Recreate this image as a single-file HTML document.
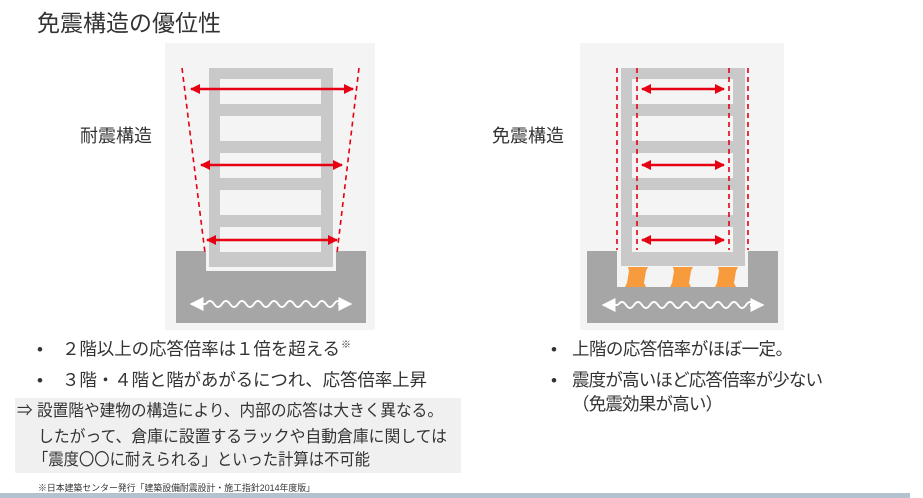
<!DOCTYPE html>
<html><head><meta charset="utf-8"><style>
html,body{margin:0;padding:0;background:#fff;}
svg{display:block;}
text{font-family:"Liberation Sans","Noto Sans CJK JP",sans-serif;fill:#333;}
</style></head><body>
<svg width="923" height="498" viewBox="0 0 923 498" xmlns="http://www.w3.org/2000/svg">
<defs>
<marker id="ar" viewBox="0 0 10 10" refX="9" refY="5" markerWidth="4" markerHeight="4" orient="auto-start-reverse"><path d="M0,0 L10,5 L0,10 z" fill="#e60012"/></marker>
<marker id="wa" viewBox="0 0 10 10" refX="9" refY="5" markerWidth="7" markerHeight="8" orient="auto-start-reverse"><path d="M0,0 L10,5 L0,10 z" fill="#fff"/></marker>
</defs>
<text x="37" y="31" font-size="23">免震構造の優位性</text>

<!-- Left panel -->
<rect x="165" y="43" width="210" height="287" fill="#f4f4f4"/>
<rect x="176" y="251" width="190" height="72" fill="#a6a6a6"/>
<rect x="206" y="251" width="130" height="20" fill="#f4f4f4"/>
<rect x="209" y="68" width="124" height="199" fill="#c9c9c9"/>
<g fill="#f4f4f4">
<rect x="220" y="79" width="101" height="25"/><rect x="220" y="116" width="101" height="25"/>
<rect x="220" y="153" width="101" height="25"/><rect x="220" y="190" width="101" height="25"/>
<rect x="220" y="227" width="101" height="25"/></g>
<g stroke="#e60012" stroke-width="1.6" stroke-dasharray="5,4" fill="none">
<line x1="182" y1="68" x2="205" y2="253"/><line x1="359" y1="68" x2="337" y2="253"/></g>
<g stroke="#e60012" stroke-width="2.5" marker-start="url(#ar)" marker-end="url(#ar)">
<line x1="191" y1="89" x2="353" y2="89"/><line x1="201" y1="165" x2="342" y2="165"/><line x1="207" y1="240" x2="337" y2="240"/></g>
<path d="M206,304 q4,-6 8,0 t8,0 t8,0 t8,0 t8,0 t8,0 t8,0 t8,0 t8,0 t8,0 t8,0 t8,0 t8,0 t8,0 t8,0 t8,0 t8,0" stroke="#fff" stroke-width="2" fill="none"/>
<line x1="206" y1="304" x2="191" y2="304" stroke="#fff" stroke-width="2" marker-end="url(#wa)"/>
<line x1="338" y1="304" x2="351" y2="304" stroke="#fff" stroke-width="2" marker-end="url(#wa)"/>
<text x="80" y="142" font-size="18">耐震構造</text>

<!-- Right panel -->
<rect x="580" y="43" width="204" height="287" fill="#f4f4f4"/>
<rect x="587" y="251" width="191" height="72" fill="#a6a6a6"/>
<rect x="617" y="251" width="131" height="36" fill="#f4f4f4"/>
<rect x="621" y="68" width="124" height="198" fill="#c9c9c9"/>
<g fill="#f4f4f4">
<rect x="632" y="79" width="101" height="25"/><rect x="632" y="116" width="101" height="25"/>
<rect x="632" y="153" width="101" height="25"/><rect x="632" y="190" width="101" height="25"/>
<rect x="632" y="227" width="101" height="25"/></g>
<g fill="#f79b3c">
<path d="M628,267 H648 L646,271 L644,283 L646,287 H625 L627,283 L629,271 Z"/>
<path d="M673,267 H693 L691,271 L689,283 L691,287 H670 L672,283 L674,271 Z"/>
<path d="M718,267 H738 L736,271 L734,283 L736,287 H715 L717,283 L719,271 Z"/></g>
<g stroke="#e60012" stroke-width="1.6" stroke-dasharray="5,4">
<line x1="617" y1="68" x2="617" y2="250"/><line x1="637" y1="68" x2="637" y2="250"/>
<line x1="729" y1="68" x2="729" y2="250"/><line x1="748" y1="68" x2="748" y2="250"/></g>
<g stroke="#e60012" stroke-width="2.5" marker-start="url(#ar)" marker-end="url(#ar)">
<line x1="642" y1="89" x2="724" y2="89"/><line x1="642" y1="165" x2="724" y2="165"/><line x1="642" y1="240" x2="724" y2="240"/></g>
<path d="M618,305 q4,-6 8,0 t8,0 t8,0 t8,0 t8,0 t8,0 t8,0 t8,0 t8,0 t8,0 t8,0 t8,0 t8,0 t8,0 t8,0 t8,0 t8,0" stroke="#fff" stroke-width="2" fill="none"/>
<line x1="618" y1="305" x2="603" y2="305" stroke="#fff" stroke-width="2" marker-end="url(#wa)"/>
<line x1="750" y1="305" x2="763" y2="305" stroke="#fff" stroke-width="2" marker-end="url(#wa)"/>
<text x="492" y="142" font-size="18">免震構造</text>

<!-- Left text -->
<text x="37" y="355" font-size="17">•</text>
<text x="62" y="355" font-size="17.5" textLength="278" lengthAdjust="spacing">２階以上の応答倍率は１倍を超える</text>
<text x="341" y="348" font-size="10">※</text>
<text x="37" y="386" font-size="17">•</text>
<text x="62" y="386" font-size="17.5" textLength="365" lengthAdjust="spacing">３階・４階と階があがるにつれ、応答倍率上昇</text>
<rect x="15" y="398" width="446" height="75" fill="#f0f0f0"/>
<text x="17" y="416" font-size="16.5" textLength="426" lengthAdjust="spacingAndGlyphs">⇒ 設置階や建物の構造により、内部の応答は大きく異なる。</text>
<text x="38" y="442" font-size="16.5" textLength="409" lengthAdjust="spacingAndGlyphs">したがって、倉庫に設置するラックや自動倉庫に関しては</text>
<text x="33" y="465" font-size="16.5" textLength="337" lengthAdjust="spacingAndGlyphs">「震度〇〇に耐えられる」といった計算は不可能</text>
<text x="38" y="491" font-size="9" textLength="277" lengthAdjust="spacingAndGlyphs">※日本建築センター発行「建築設備耐震設計・施工指針2014年度版」</text>

<!-- Right text -->
<text x="551" y="355" font-size="17">•</text>
<text x="572" y="355" font-size="17.5" textLength="221" lengthAdjust="spacing">上階の応答倍率がほぼ一定。</text>
<text x="551" y="386" font-size="17">•</text>
<text x="572" y="386" font-size="17.5" textLength="251" lengthAdjust="spacing">震度が高いほど応答倍率が少ない</text>
<text x="572" y="410" font-size="17.5" textLength="151" lengthAdjust="spacing">（免震効果が高い）</text>

<rect x="0" y="493" width="910" height="5" fill="#b3c2cf"/>
</svg>
</body></html>
